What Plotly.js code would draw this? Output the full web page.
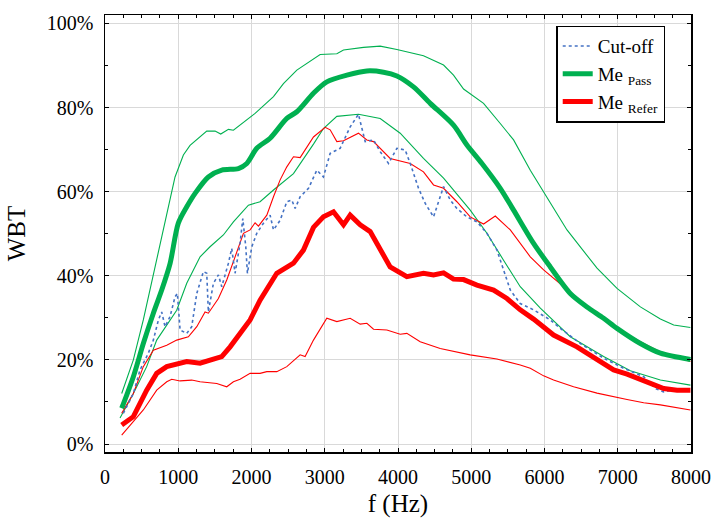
<!DOCTYPE html>
<html>
<head>
<meta charset="utf-8">
<script src="https://cdn.plot.ly/plotly-3.0.1.min.js"></script>
<style>
html,body{margin:0;padding:0;background:#fff;}
#chart{width:713px;height:518px;}
#chart svg text{fill:#000 !important;}
</style>
</head>
<body>
<div id="chart"></div>
<script>
// Pass upper bound (thin green)
const passUpF = [228,387,523,615,774,888,956,1070,1161,1389,1503,1580,1685,1753,2049,2300,2436,2619,2800,2937,3165,3256,3529,3757,3985,4167,4348,4622,4758,4895,5168,5396,5578,5806,5988,6307,6717,6990,7309,7582,7764,7992];
const passUpY = [12.0,20.0,29.5,36.6,49.3,58.0,63.5,68.7,71.0,74.4,74.4,73.7,74.8,74.6,78.6,82.6,85.7,88.9,90.9,92.6,92.8,93.7,94.3,94.6,93.8,93.1,92.3,90.1,87.7,84.4,81.0,76.2,72.3,65.1,60.0,50.9,41.8,37.0,32.6,29.7,28.3,27.7];
// Pass median (thick green)
const passMeF = [228,387,523,660,774,888,1001,1116,1230,1411,1594,1821,1936,2072,2254,2482,2619,2846,3028,3302,3575,3802,3985,4212,4440,4758,4941,5146,5396,5578,5851,6079,6352,6580,6807,6990,7309,7582,7992];
const passMeY = [8.5,16.0,23.9,31.1,36.6,42.9,52.5,56.4,59.6,63.5,65.1,65.5,66.7,70.3,72.7,77.4,79.0,83.4,86.1,87.7,88.7,88.4,87.5,84.9,81.0,75.8,71.1,66.7,60.8,55.6,47.7,42.1,35.8,32.6,29.9,27.5,23.9,21.6,20.1];
// Pass lower bound (thin green)
const passLoF = [205,387,569,706,979,1116,1298,1434,1616,1753,1958,2117,2300,2573,2846,2982,3165,3460,3757,4030,4348,4622,4986,5214,5441,5669,5943,6352,6807,7172,7582,7992];
const passLoY = [6.2,12.0,18.4,24.7,31.8,38.2,44.5,46.9,49.7,52.8,56.8,57.6,60.4,64.3,71.3,75.0,77.9,78.4,77.4,73.9,67.9,63.2,55.6,50.1,43.7,37.4,32.3,25.5,20.8,17.4,15.2,14.0];
// Refer median (thick red)
const refMeF = [228,387,569,706,843,1025,1116,1298,1480,1594,1708,1844,1981,2117,2209,2345,2573,2709,2846,2982,3119,3256,3347,3484,3620,3757,3893,4121,4348,4485,4622,4758,4895,5078,5305,5487,5669,5851,6124,6443,6717,6944,7127,7400,7627,7810,7992];
const refMeY = [4.5,6.5,12.8,16.8,18.4,19.2,19.6,19.2,20.0,20.8,23.1,26.3,29.5,34.2,36.6,40.6,43.0,46.1,51.5,54.0,55.2,52.1,54.4,52.1,50.5,46.1,42.1,39.8,40.6,40.2,40.7,39.2,39.1,37.8,36.6,34.6,31.9,29.7,25.9,23.1,20.0,17.6,16.6,14.8,13.2,12.8,12.8];
// Refer upper bound (thin red)
const refUpF = [228,387,523,660,843,979,1138,1253,1366,1411,1548,1662,1776,1890,1981,2049,2095,2209,2300,2391,2482,2573,2664,2846,3005,3074,3165,3256,3460,3575,3666,3893,4167,4348,4485,4622,4804,4986,5168,5328,5533,5806,5988,6307,6535,6807,6990,7309,7582,7992];
const refUpY = [7.3,12.0,18.4,22.3,23.5,24.7,25.5,27.9,31.4,31.1,34.6,39.0,44.5,50.1,50.9,52.6,51.8,54.4,58.8,62.8,65.9,68.3,68.1,73.0,75.3,74.7,71.9,72.1,73.9,72.3,71.9,67.9,66.7,64.7,61.6,60.8,57.6,54.0,52.3,54.2,50.9,44.5,41.4,36.6,33.4,29.9,27.5,24.3,21.9,19.6];
// Refer lower bound (thin red)
const refLoF = [228,387,523,706,843,911,1025,1184,1298,1526,1662,1753,1844,1981,2117,2209,2345,2482,2664,2732,2846,3028,3165,3347,3484,3575,3666,3848,4030,4121,4303,4576,4986,5350,5669,5806,5988,6124,6397,6717,6990,7127,7354,7582,7992];
const refLoY = [2.1,5.3,8.1,12.8,14.8,15.4,15.0,15.2,14.8,14.4,13.6,14.8,15.4,16.8,16.8,17.2,17.2,18.4,21.2,20.8,24.7,29.9,29.1,29.9,28.5,28.7,27.3,27.1,26.1,26.3,24.3,22.7,21.2,20.2,18.8,18.0,16.2,15.2,13.6,12.1,11.0,10.6,9.8,9.3,8.1];
// Cut-off (dotted blue)
const cutF = [250,387,478,592,660,729,774,820,888,956,988,1025,1116,1184,1253,1343,1389,1411,1480,1548,1594,1685,1730,1776,1844,1881,1922,1944,2004,2072,2163,2254,2300,2391,2482,2550,2596,2664,2778,2892,2982,3074,3210,3347,3460,3552,3666,3757,3871,3985,4098,4167,4280,4372,4485,4577,4622,4713,4804,4941,5078,5214,5351,5441,5533,5669,5851,6079,6216,6489,6807,7081,7354,7514,7627,7764,7992];
const cutY = [7.3,12.0,17.6,21.6,24.7,29.5,31.4,27.9,30.3,35.0,35.8,27.1,26.3,27.9,35.8,41.0,40.6,31.4,38.2,40.2,37.4,43.0,46.5,40.6,47.7,53.6,46.9,40.6,46.9,50.1,52.5,54.4,50.9,53.2,57.6,58.0,56.0,58.8,60.8,65.1,63.5,69.1,70.3,75.4,78.4,71.9,72.3,69.5,66.7,70.3,69.9,66.7,60.8,57.2,54.0,58.8,61.2,58.0,56.0,54.0,52.8,50.1,46.1,41.4,36.6,33.4,31.9,29.5,27.5,23.9,20.4,18.0,16.0,13.2,12.4,12.8,12.8];

const legendNames = ['Cut-off', 'Me <sub>Pass</sub>', 'Me <sub>Refer</sub>'];
const yTicks = [0,20,40,60,80,100];
const yTickText = yTicks.map(v => v + '%');

const GREEN = '#00b050', RED = '#ff0000', BLUE = '#4472c4';
const thin = (x, y, c) => ({x, y, type:'scatter', mode:'lines', line:{color:c, width:1.1}, showlegend:false, hoverinfo:'skip'});

const traces = [
  thin(passUpF, passUpY, GREEN),
  thin(passLoF, passLoY, GREEN),
  thin(refUpF, refUpY, RED),
  thin(refLoF, refLoY, RED),
  {x:cutF, y:cutY, type:'scatter', mode:'lines', name:legendNames[0], line:{color:BLUE, width:1.6, dash:'dot'}},
  {x:passMeF, y:passMeY, type:'scatter', mode:'lines', name:legendNames[1], line:{color:GREEN, width:5, shape:'spline', smoothing:0.8}},
  {x:refMeF, y:refMeY, type:'scatter', mode:'lines', name:legendNames[2], line:{color:RED, width:5}}
];

const layout = {
  width:713, height:518,
  margin:{l:105, r:22, t:15, b:66, pad:0},
  paper_bgcolor:'#fff', plot_bgcolor:'#fff',
  xaxis:{
    range:[0,8000], dtick:1000, tick0:0,
    ticks:'inside', ticklen:4, tickwidth:1, tickcolor:'#000',
    minor:{dtick:250, ticks:'inside', ticklen:3, tickcolor:'#000', showgrid:false},
    showline:true, linecolor:'#000', linewidth:1.5, mirror:'ticks',
    showgrid:true, gridcolor:'#d9d9d9', gridwidth:1,
    zeroline:false, tickfont:{family:'Times New Roman', size:20}, ticklabelstandoff:6,
    title:{text:'f (Hz)', font:{family:'Times New Roman', size:25}, standoff:12}
  },
  yaxis:{
    range:[-1.9,102], tickmode:'array', tickvals:yTicks, ticktext:yTickText,
    ticks:'inside', ticklen:4, tickwidth:1, tickcolor:'#000',
    minor:{dtick:10, ticks:'inside', ticklen:3, tickcolor:'#000', showgrid:false},
    showline:true, linecolor:'#000', linewidth:1.5, mirror:'ticks',
    showgrid:true, gridcolor:'#d9d9d9', gridwidth:1,
    zeroline:false, tickfont:{family:'Times New Roman', size:20}, ticklabelstandoff:6,
    title:{text:'WBT', font:{family:'Times New Roman', size:25}, standoff:14}
  },
  legend:{
    x:0.77, y:0.9755, xanchor:'left', yanchor:'top',
    bgcolor:'#fff', bordercolor:'#000', borderwidth:1.5,
    font:{family:'Times New Roman', size:19},
    tracegroupgap:0, itemwidth:30
  },
  showlegend:true
};

Plotly.newPlot('chart', traces, layout, {staticPlot:true, displayModeBar:false}).then(() => {
  document.querySelectorAll('#chart svg text').forEach(t => {
    t.style.setProperty('font-family', 'Liberation Serif', 'important');
  });
});
</script>
</body>
</html>
